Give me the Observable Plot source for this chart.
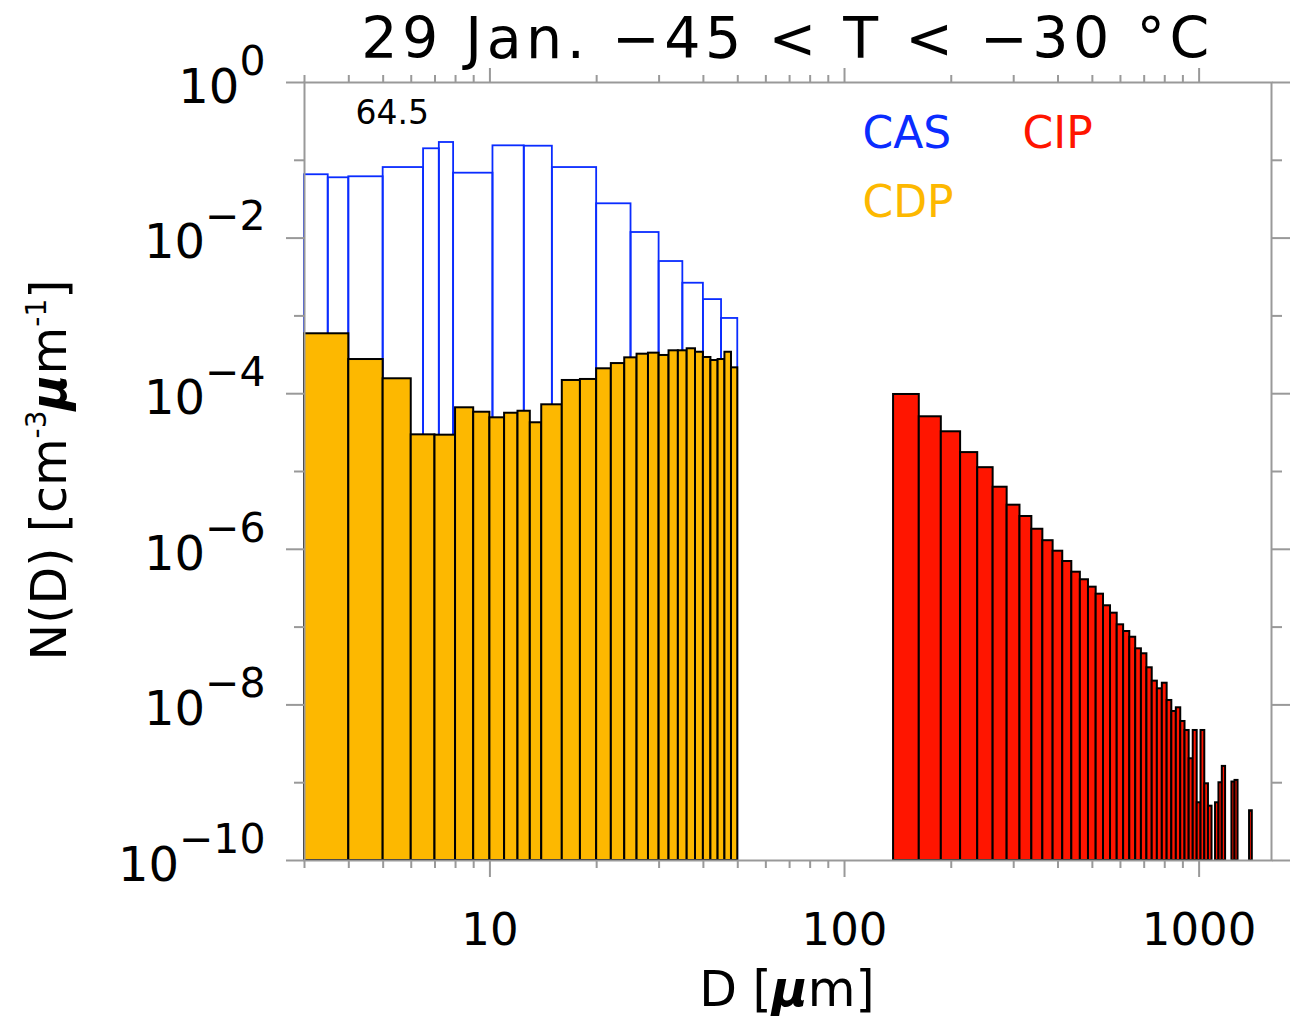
<!DOCTYPE html>
<html><head><meta charset="utf-8">
<script src="https://cdn.jsdelivr.net/npm/d3@7"></script>
<script src="https://cdn.jsdelivr.net/npm/@observablehq/plot@0.6"></script>
<style>
body{margin:0;background:#fff;font-family:"DejaVu Sans",sans-serif;}
#title{margin-left:304px;width:967px;height:50px;padding-top:10px;text-align:center;font-size:57px;line-height:1;letter-spacing:4.5px;white-space:nowrap;color:#000;}
#chart svg{display:block;}
</style></head><body>
<div id="title">29 Jan. −45 &lt; T &lt; −30 °C</div>
<div id="chart"></div>
<script>
// ---- data ----
const casEdges = [3, 3.5, 4, 5, 6.5, 7.2, 7.9, 10.2, 12.5, 15, 20, 25, 30, 35, 40, 45, 50];
const casValues = [0.0652, 0.0596, 0.0614, 0.0807, 0.1406, 0.1694, 0.0683, 0.1535, 0.1518, 0.0807, 0.0276, 0.0118, 0.0050, 0.00263, 0.00162, 0.000927];

const cdpEdges = [3, 4, 5, 6, 7, 8, 9, 10, 11, 12, 13, 14, 16, 18, 20, 22, 24, 26, 28, 30, 32, 34, 36, 38, 40, 42, 44, 46, 48, 50];
const cdpValues = [5.89e-4, 2.75e-4, 1.555e-4, 2.96e-5, 2.93e-5, 6.59e-5, 5.78e-5, 4.90e-5, 5.61e-5, 5.95e-5, 4.23e-5, 7.20e-5, 1.479e-4, 1.524e-4, 2.09e-4, 2.44e-4, 2.89e-4, 3.22e-4, 3.32e-4, 3.10e-4, 3.56e-4, 3.56e-4, 3.78e-4, 3.41e-4, 2.92e-4, 2.67e-4, 2.75e-4, 3.41e-4, 2.15e-4];

const cipLowerEdges = [137.5, 162.5, 187.5, 212.5, 237.5, 262.5, 287.5, 312.5, 337.5, 362.5, 387.5, 412.5, 437.5, 462.5, 487.5, 512.5, 537.5, 562.5, 587.5, 612.5, 637.5, 662.5, 687.5, 712.5, 737.5, 762.5, 787.5, 812.5, 837.5, 862.5, 887.5, 912.5, 937.5, 962.5, 987.5, 1012.5, 1037.5, 1062.5, 1087.5, 1112.5, 1137.5, 1162.5, 1187.5, 1212.5, 1237.5, 1262.5, 1287.5, 1312.5, 1337.5, 1362.5, 1387.5];
const cipBinWidth = 25;
const cipValues = [9.77e-5, 5.05e-5, 3.24e-5, 1.75e-5, 1.12e-5, 6.28e-6, 3.69e-6, 2.64e-6, 1.81e-6, 1.29e-6, 9.45e-7, 6.97e-7, 5.08e-7, 4.06e-7, 3.26e-7, 2.65e-7, 1.88e-7, 1.51e-7, 1.07e-7, 8.78e-8, 7.41e-8, 5.26e-8, 4.54e-8, 3.00e-8, 2.02e-8, 1.61e-8, 1.90e-8, 1.14e-8, 8.23e-9, 9.18e-9, 6.12e-9, 4.69e-9, 2.03e-9, 4.69e-9, 5.52e-10, 4.69e-9, 9.68e-10, 4.99e-10, 0, 5.52e-10, 9.98e-10, 1.62e-9, 0, 0, 1.02e-9, 1.07e-9, 0, 0, 0, 0, 4.36e-10];

const xMajorTicks = [10, 100, 1000];
const xMinorTicks = [3, 4, 5, 6, 7, 8, 9, 20, 30, 40, 50, 60, 70, 80, 90, 200, 300, 400, 500, 600, 700, 800, 900];
const yMajorTicks = [1e-10, 1e-8, 1e-6, 1e-4, 1e-2, 1];
const yMinorTicks = [1e-9, 1e-7, 1e-5, 1e-3, 1e-1];
const yFloor = 1e-10;

const seriesNames = ["CAS", "CDP", "CIP"];
const annotationText = "64.5";

// ---- styles ----
const casColor = "#0a2cff", cdpColor = "#fdb800", cipColor = "#ff1500";
const axisGray = "#999999";
const FONT = "DejaVu Sans";

const cas = casValues.map((v, i) => ({x1: casEdges[i], x2: casEdges[i + 1], y1: yFloor, v}));
const cdp = cdpValues.map((v, i) => ({x1: cdpEdges[i], x2: cdpEdges[i + 1], y1: yFloor, v}));
const cip = cipValues.map((v, i) => ({x1: cipLowerEdges[i], x2: cipLowerEdges[i] + cipBinWidth, y1: yFloor, v})).filter(d => d.v > 0);

const axisCommon = {stroke: axisGray, strokeWidth: 2, label: null};

const chart = Plot.plot({
  width: 1293, height: 963,
  marginTop: 22, marginBottom: 163, marginLeft: 304, marginRight: 22,
  style: {fontFamily: FONT, background: "white", overflow: "visible", color: "black"},
  x: {type: "log", domain: [3, 1600]},
  y: {type: "log", domain: [1e-10, 1]},
  marks: [
    Plot.rect(cas, {x1: "x1", x2: "x2", y1: "y1", y2: "v", fill: "none", stroke: casColor, strokeWidth: 1.8}),
    Plot.rect(cdp, {x1: "x1", x2: "x2", y1: "y1", y2: "v", fill: cdpColor, stroke: "black", strokeWidth: 2}),
    Plot.rect(cip, {x1: "x1", x2: "x2", y1: "y1", y2: "v", fill: cipColor, stroke: "black", strokeWidth: 2}),
    Plot.frame({stroke: axisGray, strokeWidth: 2}),
    Plot.axisX({...axisCommon, anchor: "bottom", ticks: xMajorTicks, tickSize: 17, tickPadding: 36, tickFormat: d => String(d), fontSize: 45, fill: "black"}),
    Plot.axisX({...axisCommon, anchor: "bottom", ticks: xMinorTicks, tickSize: 8, fill: "none"}),
    Plot.axisX({...axisCommon, anchor: "top", ticks: xMajorTicks, tickSize: 15, fill: "none"}),
    Plot.axisX({...axisCommon, anchor: "top", ticks: xMinorTicks, tickSize: 8, fill: "none"}),
    Plot.axisY({...axisCommon, anchor: "left", ticks: yMajorTicks, tickSize: 18, tickPadding: 21, fontSize: 48, fill: "black",
      tickFormat: d => "E" + Math.round(Math.log10(d))}),
    Plot.axisY({...axisCommon, anchor: "left", ticks: yMinorTicks, tickSize: 10, fill: "none"}),
    Plot.axisY({...axisCommon, anchor: "right", ticks: yMajorTicks, tickSize: 18, fill: "none"}),
    Plot.axisY({...axisCommon, anchor: "right", ticks: yMinorTicks, tickSize: 10, fill: "none"}),
    Plot.text([seriesNames[0]], {text: d => d, frameAnchor: "top-left", dx: 558, dy: 51, textAnchor: "start", lineAnchor: "middle", fill: casColor, fontSize: 44}),
    Plot.text([seriesNames[2]], {text: d => d, frameAnchor: "top-left", dx: 718, dy: 51, textAnchor: "start", lineAnchor: "middle", fill: cipColor, fontSize: 44}),
    Plot.text([seriesNames[1]], {text: d => d, frameAnchor: "top-left", dx: 558, dy: 120, textAnchor: "start", lineAnchor: "middle", fill: cdpColor, fontSize: 44}),
    Plot.text([annotationText], {text: d => d, frameAnchor: "top-left", dx: 51, dy: 31, textAnchor: "start", lineAnchor: "middle", fill: "black", fontSize: 33})
  ]
});

document.getElementById("chart").appendChild(chart);

// y tick labels as 10^n with superscripts
chart.querySelectorAll('g[aria-label="y-axis tick label"] text').forEach(t => {
  const m = /^E(-?\d+)$/.exec(t.textContent.trim());
  if (!m) return;
  const n = +m[1];
  t.textContent = "";
  const base = document.createElementNS("http://www.w3.org/2000/svg", "tspan");
  base.textContent = "10";
  base.setAttribute("dy", "5");
  t.appendChild(base);
  const ex = document.createElementNS("http://www.w3.org/2000/svg", "tspan");
  ex.textContent = n === 0 ? "0" : "\u2212" + Math.abs(n);
  ex.setAttribute("font-size", "41");
  ex.setAttribute("dy", "-28");
  t.appendChild(ex);
});

const svg = d3.select(chart);
// y-axis title
const yl = svg.append("text")
  .attr("transform", "translate(66,410) rotate(-90)")
  .attr("text-anchor", "middle")
  .attr("font-family", FONT)
  .attr("font-size", 49)
  .attr("fill", "black");
yl.append("tspan").text("N(D) [cm");
yl.append("tspan").attr("font-size", 28).attr("dy", -20).text("-3");
yl.append("tspan").attr("dy", 20).attr("font-style", "italic").attr("font-weight", "bold").text("\u03bc");
yl.append("tspan").text("m");
yl.append("tspan").attr("font-size", 28).attr("dy", -20).text("-1");
yl.append("tspan").attr("dy", 20).text("]");

// x-axis title
const xl = svg.append("text")
  .attr("x", 787).attr("y", 946)
  .attr("text-anchor", "middle")
  .attr("font-family", FONT)
  .attr("font-size", 49)
  .attr("fill", "black");
xl.append("tspan").text("D [");
xl.append("tspan").attr("font-style", "italic").attr("font-weight", "bold").text("\u03bc");
xl.append("tspan").text("m]");
</script>
</body></html>
